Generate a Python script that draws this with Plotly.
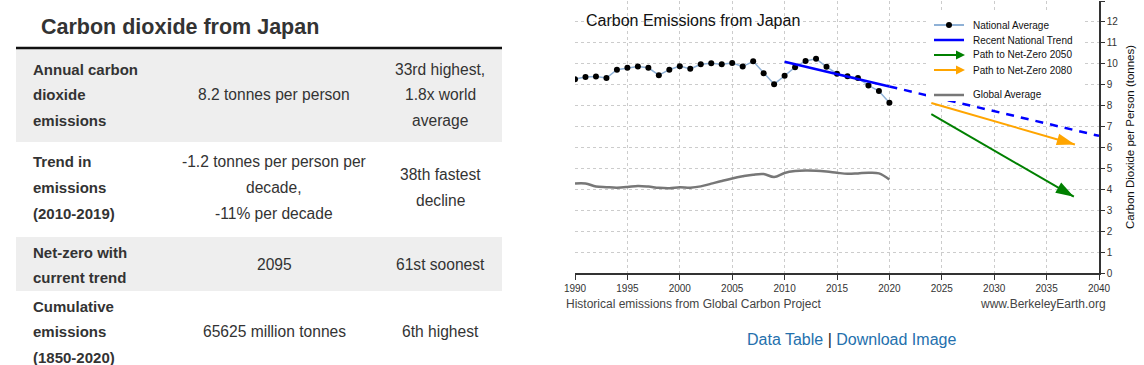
import plotly.graph_objects as go

W, H = 1144, 365

# ---------------- Table data ----------------
table_title = "Carbon dioxide from Japan"
row_labels = [["Annual carbon", "dioxide", "emissions"],
              ["Trend in", "emissions", "(2010-2019)"],
              ["Net-zero with", "current trend"],
              ["Cumulative", "emissions", "(1850-2020)"]]
row_values = [["8.2 tonnes per person"],
              ["-1.2 tonnes per person per", "decade,", "-11% per decade"],
              ["2095"],
              ["65625 million tonnes"]]
row_ranks = [["33rd highest,", "1.8x world", "average"],
             ["38th fastest", "decline"],
             ["61st soonest"],
             ["6th highest"]]

# ---------------- Chart data ----------------
chart_title = "Carbon Emissions from Japan"
years = list(range(1990, 2021))
national = [9.27, 9.37, 9.40, 9.32, 9.72, 9.81, 9.87, 9.81, 9.46, 9.72,
            9.89, 9.76, 9.98, 10.03, 9.98, 10.04, 9.87, 10.12, 9.55, 9.03,
            9.43, 9.84, 10.14, 10.24, 9.86, 9.53, 9.41, 9.32, 8.97, 8.70, 8.14]
global_avg = [4.29, 4.29, 4.14, 4.11, 4.09, 4.12, 4.17, 4.14, 4.08, 4.06,
              4.11, 4.09, 4.15, 4.28, 4.41, 4.53, 4.63, 4.71, 4.74, 4.60,
              4.79, 4.88, 4.91, 4.90, 4.86, 4.80, 4.75, 4.77, 4.80, 4.77, 4.48]
trend_years = [2010, 2020]
trend_vals = [10.10, 8.92]
trend_proj_years = [2020, 2040]
trend_proj_vals = [8.92, 6.56]
path2050_years = [2024, 2037.6]
path2050_vals = [7.60, 3.66]
path2080_years = [2024, 2037.7]
path2080_vals = [8.13, 6.15]
x_ticks = list(range(1990, 2041, 5))
y_ticks = list(range(0, 14))
legend_names = ["National Average", "Recent National Trend", "Path to Net-Zero 2050",
                "Path to Net-Zero 2080", "Global Average"]

FONT = "Liberation Sans, Arial, Helvetica, sans-serif"
C_NAT, C_NAT_DOT = "#8fb1d6", "black"
C_TREND, C_2050, C_2080, C_GLOB = "#0000ff", "#008000", "#ffa500", "#777777"


def px(x):
    return x / W


def py(y):
    return 1 - y / H


fig = go.Figure()

fig.add_trace(go.Scatter(
    x=years, y=national, mode="lines+markers", name=legend_names[0],
    line=dict(color=C_NAT, width=1.5), marker=dict(color=C_NAT_DOT, size=6)))
fig.add_trace(go.Scatter(
    x=trend_years, y=trend_vals, mode="lines", name=legend_names[1],
    line=dict(color=C_TREND, width=2.5)))
fig.add_trace(go.Scatter(
    x=trend_proj_years, y=trend_proj_vals, mode="lines", name=legend_names[1],
    line=dict(color=C_TREND, width=2.5, dash="8px,7px")))
for xs, ys, col, nm in [(path2050_years, path2050_vals, C_2050, legend_names[2]),
                        (path2080_years, path2080_vals, C_2080, legend_names[3])]:
    fig.add_trace(go.Scatter(x=xs, y=ys, mode="lines", name=nm,
                             line=dict(color=col, width=2)))
    fig.add_trace(go.Scatter(
        x=xs, y=ys, mode="markers", name=nm, hoverinfo="skip",
        marker=dict(symbol="arrow", size=[0, 19], opacity=[0, 1],
                    angleref="previous", color=col, line=dict(width=0))))
fig.add_trace(go.Scatter(
    x=years, y=global_avg, mode="lines", name=legend_names[4],
    line=dict(color=C_GLOB, width=2.5, shape="spline")))

shapes = []
annotations = []

# ---- table ----
annotations.append(dict(text="<b>" + table_title + "</b>", x=px(39), y=py(27),
                        xref="paper", yref="paper", xanchor="left", yanchor="middle",
                        showarrow=False, font=dict(size=21.5, color="#333", family=FONT)))
shapes.append(dict(type="line", xref="paper", yref="paper", x0=px(16), x1=px(502),
                   y0=py(48), y1=py(48), line=dict(color="#111", width=2.5)))
band_rows = [(49, 142), (237, 291)]
for y0, y1 in band_rows:
    shapes.append(dict(type="rect", xref="paper", yref="paper", x0=px(16), x1=px(502),
                       y0=py(y0), y1=py(y1), line=dict(width=0), fillcolor="#eeeeee",
                       layer="below"))
first_line = [69, 162, 252, 306]
gap = 25.7
for i in range(len(row_labels)):
    n = len(row_labels[i])
    center = first_line[i] + (n - 1) * gap / 2
    for j, t in enumerate(row_labels[i]):
        annotations.append(dict(text="<b>" + t + "</b>", x=px(31), y=py(first_line[i] + j * gap),
                                xref="paper", yref="paper", xanchor="left", yanchor="middle",
                                showarrow=False, font=dict(size=15, color="#333", family=FONT)))
    for col_x, lines in [(274, row_values[i]), (440, row_ranks[i])]:
        m = len(lines)
        for j, t in enumerate(lines):
            yy = center + (j - (m - 1) / 2) * gap
            annotations.append(dict(text=t, x=px(col_x), y=py(yy),
                                    xref="paper", yref="paper", xanchor="center", yanchor="middle",
                                    showarrow=False, font=dict(size=15.6, color="#333", family=FONT)))

# ---- chart legend (drawn as a key box on top of the plot) ----
shapes.append(dict(type="rect", xref="paper", yref="paper", x0=px(926), x1=px(1084),
                   y0=py(101), y1=py(10), line=dict(width=0), fillcolor="white",
                   layer="above"))
legend_y = [25, 40, 55, 70, 95]
legend_cols = [C_NAT, C_TREND, C_2050, C_2080, C_GLOB]
legend_w = [2, 2.5, 2, 2, 2.5]
for k in range(len(legend_names)):
    yy = legend_y[k]
    shapes.append(dict(type="line", xref="paper", yref="paper", x0=px(934), x1=px(960 if k in (2, 3) else 964),
                       y0=py(yy), y1=py(yy), line=dict(color=legend_cols[k], width=legend_w[k]),
                       layer="above"))
    if k == 0:
        shapes.append(dict(type="circle", xref="paper", yref="paper", x0=px(946), x1=px(952),
                           y0=py(yy + 3), y1=py(yy - 3), fillcolor=C_NAT_DOT,
                           line=dict(width=0), layer="above"))
    if k in (2, 3):
        shapes.append(dict(type="path", xref="paper", yref="paper",
                           path="M {},{} L {},{} L {},{} Z".format(px(965), py(yy), px(956), py(yy - 4.5),
                                                                  px(956), py(yy + 4.5)),
                           fillcolor=legend_cols[k], line=dict(width=0), layer="above"))
    annotations.append(dict(text=legend_names[k], x=px(971), y=py(yy), xref="paper", yref="paper",
                            xanchor="left", yanchor="middle", showarrow=False,
                            font=dict(size=10, color="#111", family=FONT)))

# ---- chart texts ----
annotations.append(dict(text=chart_title, x=px(584), y=py(20), xref="paper", yref="paper",
                        xanchor="left", yanchor="middle", showarrow=False,
                        font=dict(size=16, color="#111", family=FONT)))
annotations.append(dict(text="Carbon Dioxide per Person (tonnes)", x=px(1130), y=py(137),
                        xref="paper", yref="paper", xanchor="center", yanchor="middle",
                        textangle=-90, showarrow=False,
                        font=dict(size=11.5, color="#111", family=FONT)))
annotations.append(dict(text="Historical emissions from Global Carbon Project", x=px(564), y=py(304),
                        xref="paper", yref="paper", xanchor="left", yanchor="middle",
                        showarrow=False, font=dict(size=12, color="#444", family=FONT)))
annotations.append(dict(text="www.BerkeleyEarth.org", x=px(1108), y=py(304),
                        xref="paper", yref="paper", xanchor="right", yanchor="middle",
                        showarrow=False, font=dict(size=12, color="#444", family=FONT)))
annotations.append(dict(text='<span style="color:#2470ad">Data Table</span> | '
                             '<span style="color:#2470ad">Download Image</span>',
                        x=px(851), y=py(339), xref="paper", yref="paper",
                        xanchor="center", yanchor="middle", showarrow=False,
                        font=dict(size=16, color="#222", family=FONT)))

grid = dict(showgrid=True, gridcolor="#cccccc", gridwidth=1, griddash="3px,3px")

fig.update_layout(
    width=W, height=H, autosize=False,
    margin=dict(l=0, r=0, t=0, b=0, autoexpand=False),
    paper_bgcolor="white", plot_bgcolor="white",
    font=dict(family=FONT, color="#333"),
    shapes=shapes, annotations=annotations,
    showlegend=False,
    xaxis=dict(domain=[px(575), px(1099)], range=[1990, 2040], tickvals=x_ticks,
               ticks="outside", ticklen=5, tickcolor="#333", showline=True,
               linecolor="#333", linewidth=1.5, zeroline=False, automargin=False,
               tickfont=dict(size=10, color="#333", family=FONT), **grid),
    yaxis=dict(domain=[py(273.3), py(1)], range=[0, 13], tickvals=y_ticks,
               side="right", ticks="outside", ticklen=4, tickcolor="#333",
               showline=True, linecolor="#333", linewidth=1.5, zeroline=False,
               automargin=False,
               tickfont=dict(size=10, color="#333", family=FONT), **grid),
)

fig.write_html("out.html", config={"displayModeBar": False},
               post_script="document.body.style.margin='0';")
